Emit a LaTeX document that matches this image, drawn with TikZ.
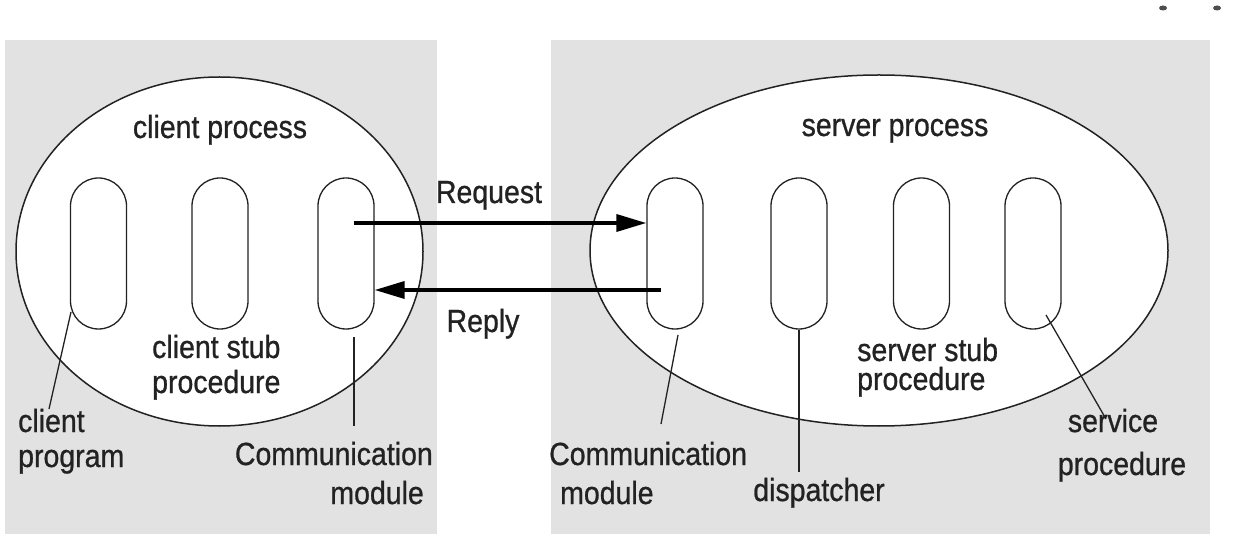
\documentclass[tikz,border=0pt]{standalone}
\usepackage{fontspec}
\setmainfont{Liberation Sans}[FakeStretch=0.89,FakeBold=0.8]
\usetikzlibrary{arrows.meta,shapes.geometric}
\definecolor{ink}{HTML}{222222}
\definecolor{panel}{HTML}{E2E2E2}

\begin{document}
\begin{tikzpicture}[x=1pt,y=-1pt,
  process/.style={ellipse,draw=ink,line width=1.5pt,fill=white,inner sep=0pt},
  module/.style={rectangle,rounded corners=28pt,draw=ink,line width=1.3pt,
                 minimum width=56pt,minimum height=151pt,inner sep=0pt},
  lbl/.style={text=ink,inner sep=0pt,font=\fontsize{32}{38}\selectfont},
  leader/.style={draw=ink,line width=1.3pt},
  msg/.style={draw=black,line width=3.5pt,-{Triangle[length=30pt,width=17pt]}},
]
\useasboundingbox (0,0) rectangle (1234,534);
\fill[white] (0,0) rectangle (1234,534);
\fill[panel] (5,40) rectangle (437,534);
\fill[panel] (551,40) rectangle (1210,534);
% stray marks along the top edge
\fill[ink!80] (1163,8) ellipse [x radius=4, y radius=2.5];
\fill[ink!80] (1217,8) ellipse [x radius=4, y radius=2.5];

% processes
\node[process,minimum width=407pt,minimum height=349pt] (client) at (219.5,251.5) {};
\node[process,minimum width=578pt,minimum height=351pt] (server) at (879,250.5) {};

% modules inside the client process
\node[module] (lc1) at (98.5,253.5) {};
\node[module] (lc2) at (220,253.5) {};
\node[module] (lc3) at (346,253.5) {};

% modules inside the server process
\node[module] (rc1) at (675,253.5) {};
\node[module] (rc2) at (799,253.5) {};
\node[module] (rc3) at (921.5,253.5) {};
\node[module] (rc4) at (1033,253.5) {};

% messages
\coordinate (reqstart) at (354,223);
\coordinate (repstart) at (661,290);
\draw[msg] (reqstart) -- (reqstart -| rc1.west);
\draw[msg] (repstart) -- (repstart -| lc3.east);

% labels
\node[lbl,anchor=base] (cproc) at (220,138) {client process};
\node[lbl,anchor=base] (sproc) at (895,136) {server process};
\node[lbl,anchor=base] (req) at (489,203) {Request};
\node[lbl,anchor=base] (rep) at (483,332) {Reply};

\node[lbl,anchor=base west] (cstubA) at (152,358) {client stub};
\node[lbl,anchor=base west] (cstubB) at (152,393) {procedure};
\node[lbl,anchor=base west] (cprogA) at (18,432) {client};
\node[lbl,anchor=base west] (cprogB) at (18,467) {program};
\node[lbl,anchor=base east] (ccomA) at (433,465) {Communication};
\node[lbl,anchor=base east] (ccomB) at (424,504) {module};

\node[lbl,anchor=base west] (scomA) at (549,465) {Communication};
\node[lbl,anchor=base west] (scomB) at (560,504) {module};
\node[lbl,anchor=base] (disp) at (819,501) {dispatcher};
\node[lbl,anchor=base west] (sstubA) at (857,361) {server stub};
\node[lbl,anchor=base west] (sstubB) at (857,390) {procedure};
\node[lbl,anchor=base] (servA) at (1113,432) {service};
\node[lbl,anchor=base] (servB) at (1122,475) {procedure};

% leader lines
\coordinate (cpA) at (71,312);   \coordinate (cpB) at (49,409);
\coordinate (ccA) at (354,337);  \coordinate (ccB) at (354,426);
\coordinate (scA) at (678,335);  \coordinate (scB) at (661,424);
\coordinate (dpB) at (799,472);
\coordinate (svA) at (1046,315); \coordinate (svB) at (1106,419);
\draw[leader] (cpA) -- (cpB);
\draw[leader] (ccA) -- (ccB);
\draw[leader] (scA) -- (scB);
\draw[leader] (rc2.south) -- (dpB);
\draw[leader] (svA) -- (svB);
\end{tikzpicture}
\end{document}
